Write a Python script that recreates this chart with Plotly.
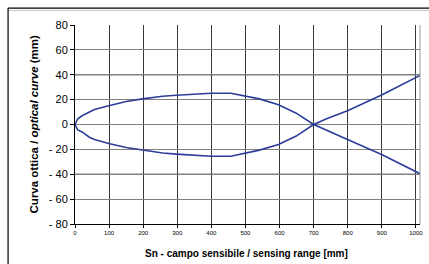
import plotly.graph_objects as go

# Upper branch of the optical curve (sensing range mm, curve mm)
x_upper = [0, 8, 22, 42, 57, 102, 150, 198, 257, 298, 365, 399, 457, 499, 541, 597, 649, 700, 738, 801, 901, 1012]
y_upper = [0, 4.6, 7.2, 9.9, 12.0, 15.3, 18.5, 20.6, 22.7, 23.5, 24.9, 25.1, 25.1, 22.7, 20.6, 15.8, 9.1, 0, 4.6, 11.2, 23.9, 39.5]
# Lower branch
x_lower = [0, 8, 22, 42, 57, 102, 150, 198, 257, 298, 365, 399, 457, 499, 541, 597, 649, 700, 738, 801, 901, 1012]
y_lower = [0, -4.3, -6.2, -10.2, -12.0, -15.5, -18.5, -20.6, -22.9, -23.8, -25.3, -25.5, -25.5, -23.0, -20.6, -16.0, -9.3, 0, -4.8, -12.3, -24.3, -39.6]

x_ticks = [0, 100, 200, 300, 400, 500, 600, 700, 800, 900, 1000]
y_ticks = [80, 60, 40, 20, 0, -20, -40, -60, -80]
y_labels = ["80", "60", "40", "20", "0", "- 20", "- 40", "- 60", "- 80"]
y_major = [40, 0, -40]

line_color = "#2E3D9A"

fig = go.Figure()
fig.add_trace(go.Scatter(x=x_upper, y=y_upper, mode="lines",
                         line=dict(color=line_color, width=1.6), showlegend=False))
fig.add_trace(go.Scatter(x=x_lower, y=y_lower, mode="lines",
                         line=dict(color=line_color, width=1.6), showlegend=False))

shapes = []
for yv in y_major:
    shapes.append(dict(type="line", xref="paper", x0=0, x1=1, yref="y", y0=yv, y1=yv,
                       line=dict(color="#000000", width=1), layer="below"))
# plot area right border
shapes.append(dict(type="line", xref="paper", x0=1, x1=1, yref="paper", y0=0, y1=1,
                   line=dict(color="#9A9A9A", width=1)))
# outer chart frame (clipped at right/bottom)
shapes.append(dict(type="line", xref="paper", x0=-0.194, x1=1.05, yref="paper", y0=1.085, y1=1.085,
                   line=dict(color="#000000", width=1.2)))
shapes.append(dict(type="line", xref="paper", x0=-0.194, x1=1.05, yref="paper", y0=1.073, y1=1.073,
                   line=dict(color="#C8C8C8", width=1)))
shapes.append(dict(type="line", xref="paper", x0=-0.194, x1=-0.194, yref="paper", y0=-0.3, y1=1.085,
                   line=dict(color="#000000", width=1.2)))

annotations = [
    dict(text="<b>Curva ottica / <i>optical curve</i> (mm)</b>", xref="paper", yref="paper",
         x=-0.119, y=0.5, textangle=-90, showarrow=False, font=dict(size=11.5),
         xanchor="center", yanchor="middle"),
    dict(text="<b>Sn - campo sensibile / sensing range [mm]</b>", xref="paper", yref="paper",
         x=0.497, y=-0.146, showarrow=False, font=dict(size=10),
         xanchor="center", yanchor="middle"),
]

fig.update_layout(
    width=429, height=264,
    margin=dict(l=75, r=9, t=25, b=40, autoexpand=False),
    paper_bgcolor="white", plot_bgcolor="white",
    font=dict(family="Liberation Sans, Arial, sans-serif", color="#000000"),
    shapes=shapes,
    annotations=annotations,
    xaxis=dict(range=[0, 1012], tickvals=x_ticks, ticktext=[str(v) for v in x_ticks],
               showgrid=True, gridcolor="#3A3A3A", gridwidth=1, automargin=False,
               ticks="outside", ticklen=3, tickcolor="#000000",
               showline=True, linecolor="#000000", linewidth=1,
               zeroline=False, tickfont=dict(size=6)),
    yaxis=dict(range=[-80, 80], tickvals=y_ticks, ticktext=y_labels,
               showgrid=True, gridcolor="#808080", gridwidth=1, automargin=False,
               ticks="outside", ticklen=4, tickcolor="#000000",
               showline=True, linecolor="#000000", linewidth=1,
               zeroline=False, tickfont=dict(size=11)),
)

fig.write_html("out.html", config={"displayModeBar": False},
               post_script="document.body.style.margin='0';document.body.style.overflow='hidden';")
